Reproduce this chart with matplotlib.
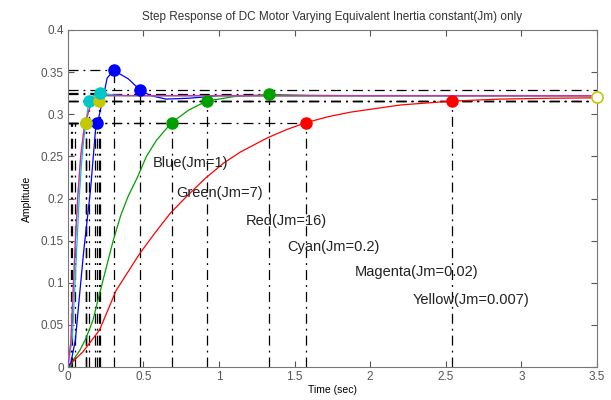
import numpy as np
import matplotlib.pyplot as plt

plt.rcParams['font.family'] = ['Liberation Sans', 'DejaVu Sans']

# step responses (time in sec, amplitude)
t_blue = [0, 0.02, 0.05, 0.08, 0.106, 0.15, 0.183, 0.197, 0.24, 0.26, 0.304, 0.4, 0.48, 0.55, 0.65, 0.8, 1.0, 3.5]
y_blue = [0, 0.005, 0.032, 0.09, 0.139, 0.21, 0.281, 0.29, 0.325, 0.343, 0.352, 0.342, 0.3284, 0.322, 0.318, 0.319, 0.322, 0.322]

t_green = [0, 0.02, 0.035, 0.08, 0.12, 0.167, 0.2, 0.25, 0.3, 0.35, 0.4, 0.46, 0.52, 0.586, 0.686, 0.8, 0.918, 1.1, 1.33, 1.6, 2.0, 3.5]
y_green = [0, 0.001, 0.008, 0.02, 0.034, 0.056, 0.08, 0.115, 0.15, 0.18, 0.203, 0.225, 0.25, 0.269, 0.29, 0.305, 0.3156, 0.321, 0.3235, 0.3225, 0.322, 0.322]

t_red = [0, 0.013, 0.1, 0.21, 0.32, 0.477, 0.58, 0.68, 0.8, 0.91, 1.03, 1.14, 1.32, 1.45, 1.575, 1.72, 1.87, 2.2, 2.54, 2.86, 3.2, 3.5]
y_red = [0, 0.003, 0.018, 0.044, 0.091, 0.135, 0.16, 0.183, 0.205, 0.224, 0.242, 0.255, 0.272, 0.282, 0.29, 0.297, 0.3025, 0.311, 0.3156, 0.318, 0.319, 0.3195]

t_cyan = [0, 0.03, 0.045, 0.06, 0.075, 0.09, 0.105, 0.12, 0.139, 0.17, 0.216, 0.3, 0.4, 3.5]
y_cyan = [0, 0.035, 0.09, 0.145, 0.2, 0.24, 0.27, 0.29, 0.3156, 0.322, 0.325, 0.323, 0.322, 0.322]

t_mag = [0, 0.02, 0.035, 0.05, 0.065, 0.085, 0.106, 0.117, 0.14, 0.16, 0.183, 0.25, 3.5]
y_mag = [0, 0.03, 0.09, 0.15, 0.2, 0.25, 0.281, 0.29, 0.305, 0.3156, 0.321, 0.322, 0.322]

# characteristic points (rise 90%, settling 2%, peak)
rise_t = {'b': 0.194, 'g': 0.686, 'r': 1.575, 'c': 0.12, 'y': 0.117}
settle_t = {'b': 0.48, 'g': 0.918, 'r': 2.54, 'c': 0.139, 'y': 0.205}
settle_y = {'b': 0.3284, 'g': 0.3156, 'r': 0.3156, 'c': 0.3156, 'y': 0.3156}
peak_t = {'b': 0.304, 'g': 1.33, 'c': 0.216}
peak_y = {'b': 0.352, 'g': 0.3235, 'c': 0.325}
low_t = [0.018, 0.029, 0.05, 0.12, 0.18]   # 10% rise times
rise_level = 0.29

labels = ['Blue(Jm=1)', 'Green(Jm=7)', 'Red(Jm=16)', 'Cyan(Jm=0.2)', 'Magenta(Jm=0.02)', 'Yellow(Jm=0.007)']
label_x = [0.56, 0.72, 1.18, 1.45, 1.9, 2.28]
label_y = [0.237, 0.202, 0.169, 0.138, 0.108, 0.075]

cols = {'b': '#0000ff', 'g': '#00a000', 'r': '#ff0000', 'c': '#00c8c8', 'm': '#d020d0', 'y': '#c8c800'}

fig = plt.figure(figsize=(6.11, 4.0), dpi=100)
ax = fig.add_axes([0.111, 0.0825, 0.866, 0.8425])

dash = dict(color='black', lw=0.9, ls=(0, (8, 4, 1.5, 4)), zorder=1)

# vertical guide lines
for t in low_t:
    ax.plot([t, t], [0, rise_level], **dash)
for k in rise_t:
    ax.plot([rise_t[k], rise_t[k]], [0, rise_level], **dash)
    ax.plot([0, rise_t[k]], [rise_level, rise_level], **dash)
for k in settle_t:
    ax.plot([settle_t[k], settle_t[k]], [0, settle_y[k]], **dash)
    ax.plot([0, 3.5], [settle_y[k], settle_y[k]], **dash)
for k in peak_t:
    ax.plot([peak_t[k], peak_t[k]], [0, peak_y[k]], **dash)
    ax.plot([0, peak_t[k]], [peak_y[k], peak_y[k]], **dash)

ax.plot(t_green, y_green, color=cols['g'], lw=0.9, zorder=2)
ax.plot(t_red, y_red, color=cols['r'], lw=0.9, zorder=2)
ax.plot(t_blue, y_blue, color=cols['b'], lw=0.9, zorder=3)
ax.plot(t_cyan, y_cyan, color=cols['c'], lw=0.9, zorder=3)
ax.plot(t_mag, y_mag, color=cols['y'], lw=0.9, zorder=3)
ax.plot(t_mag, y_mag, color=cols['m'], lw=0.9, zorder=3)

# markers
for k in rise_t:
    ax.plot(rise_t[k], rise_level, 'o', color=cols[k], ms=8, zorder=5)
for k in settle_t:
    ax.plot(settle_t[k], settle_y[k], 'o', color=cols[k], ms=8, zorder=5)
for k in peak_t:
    ax.plot(peak_t[k], peak_y[k], 'o', color=cols[k], ms=8, zorder=5)
ax.plot(3.5, 0.32, 'o', mfc='white', mec=cols['y'], ms=8, mew=1.2, zorder=6, clip_on=False)

for s, x, y in zip(labels, label_x, label_y):
    ax.text(x, y, s, fontsize=10.5, color='#222222')

ax.set_xlim(0, 3.5)
ax.set_ylim(0, 0.4)
ax.set_xticks(np.arange(0, 3.51, 0.5))
ax.set_yticks(np.arange(0, 0.401, 0.05))
ax.set_xticklabels(['0', '0.5', '1', '1.5', '2', '2.5', '3', '3.5'])
ax.set_yticklabels(['0', '0.05', '0.1', '0.15', '0.2', '0.25', '0.3', '0.35', '0.4'])
ax.tick_params(direction='in', top=True, right=True, labelsize=8.5, labelcolor='#555555', color='#555555', length=4, pad=3)
for sp in ax.spines.values():
    sp.set_color('#777777')

ax.set_title('Step Response of DC Motor Varying Equivalent Inertia constant(Jm) only', fontsize=8.5, pad=7, color='#333333')
ax.set_xlabel('Time (sec)', fontsize=7.5, labelpad=1)
ax.set_ylabel('Amplitude', fontsize=7.5, labelpad=6)

fig.savefig('out.png', dpi=100)
